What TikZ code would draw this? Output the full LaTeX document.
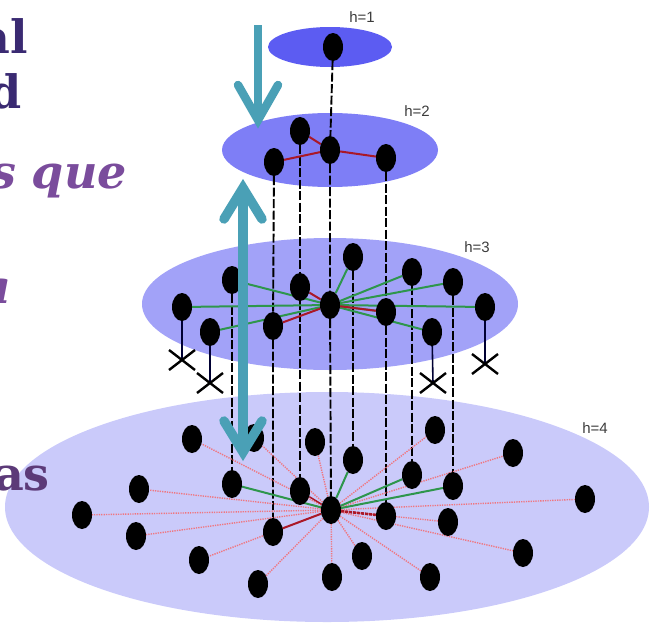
\documentclass[tikz,border=0pt]{standalone}
\usepackage{fontspec}
\usetikzlibrary{shapes.geometric}
\newfontfamily\slidefont{DejaVu Serif}
\newfontfamily\tagfont{Liberation Sans}
\definecolor{planeA}{RGB}{92,92,242}
\definecolor{planeB}{RGB}{126,126,246}
\definecolor{planeC}{RGB}{162,162,248}
\definecolor{planeD}{RGB}{202,202,250}
\definecolor{linkgreen}{RGB}{46,150,76}
\definecolor{linkred}{RGB}{170,24,40}
\definecolor{linkpink}{RGB}{240,118,128}
\definecolor{teal}{RGB}{74,160,182}
\definecolor{inkdark}{RGB}{58,42,114}
\definecolor{inkmid}{RGB}{122,76,156}
\definecolor{inkdeep}{RGB}{92,58,120}
\definecolor{taggray}{RGB}{60,60,60}
\pgfdeclarelayer{planes}
\pgfdeclarelayer{links}
\pgfdeclarelayer{front}
\pgfsetlayers{planes,links,main,front}
\begin{document}
\begin{tikzpicture}[x=1pt,y=-1pt,
  dot/.style={ellipse,fill=black,minimum width=20pt,minimum height=28pt,inner sep=0pt},
  drop/.style={black,line width=1.9pt,dash pattern=on 9pt off 2.5pt},
  tie/.style={black!80!blue,line width=1.6pt},
  gl/.style={linkgreen,line width=2pt},
  rl/.style={linkred,line width=2pt},
  pl/.style={linkpink,line width=1.4pt,dash pattern=on 1.3pt off 1.1pt},
  crossmk/.style={black,line width=2.4pt},
  htag/.style={font=\tagfont\fontsize{15}{17}\selectfont,text=taggray,inner sep=0pt},
  slide/.style={inner sep=0pt,anchor=base east,font=\slidefont\bfseries\fontsize{46}{50}\selectfont},
  shaft/.style={teal,line width=#1},
  barb/.style={teal,line width=#1,line cap=round,line join=miter}]
\useasboundingbox (0,0) rectangle (650,624);
\clip (0,0) rectangle (650,624);

% stacked planes
\begin{pgfonlayer}{planes}
\fill[planeD] (327,507) ellipse [x radius=322pt,y radius=115pt];
\fill[planeC] (330,304) ellipse [x radius=188pt,y radius=66pt];
\fill[planeB] (330,150) ellipse [x radius=108pt,y radius=37pt];
\fill[planeA] (330,47) ellipse [x radius=62pt,y radius=20pt];
\end{pgfonlayer}

\node[htag] (h1) at (362,17) {h=1};
\node[htag] (h2) at (417,111) {h=2};
\node[htag] (h3) at (477,247) {h=3};
\node[htag] (h4) at (595,428) {h=4};

% level 1
\node[dot] (t) at (333,47) {};
% level 2
\node[dot] (a2) at (300,131) {};
\node[dot] (b2) at (274,162) {};
\node[dot] (c2) at (330,150) {};
\node[dot] (d2) at (386,158) {};
% level 3
\node[dot] (p1) at (182,307) {};
\node[dot] (p2) at (210,332) {};
\node[dot] (p3) at (232,280) {};
\node[dot] (p4) at (273,326) {};
\node[dot] (p5) at (300,287) {};
\node[dot] (c3) at (330,305) {};
\node[dot] (p6) at (353,257) {};
\node[dot] (p7) at (412,272) {};
\node[dot] (p8) at (386,312) {};
\node[dot] (p9) at (453,282) {};
\node[dot] (p10) at (432,332) {};
\node[dot] (p11) at (485,307) {};
% level 4
\node[dot] (n1) at (82,515) {};
\node[dot] (n2) at (139,489) {};
\node[dot] (n3) at (136,536) {};
\node[dot] (n4) at (192,439) {};
\node[dot] (n5) at (199,560) {};
\node[dot] (n6) at (232,484) {};
\node[dot] (n7) at (254,438) {};
\node[dot] (n8) at (258,584) {};
\node[dot] (n9) at (273,532) {};
\node[dot] (n10) at (300,491) {};
\node[dot] (n11) at (315,442) {};
\node[dot] (c4) at (331,510) {};
\node[dot] (n12) at (353,460) {};
\node[dot] (n13) at (362,556) {};
\node[dot] (n14) at (332,577) {};
\node[dot] (n15) at (386,516) {};
\node[dot] (n16) at (412,475) {};
\node[dot] (n17) at (435,430) {};
\node[dot] (n18) at (448,522) {};
\node[dot] (n19) at (453,486) {};
\node[dot] (n20) at (430,577) {};
\node[dot] (n21) at (513,453) {};
\node[dot] (n22) at (585,499) {};
\node[dot] (n23) at (523,553) {};

% pruned branches
\coordinate (x1) at (182,360);
\coordinate (x2) at (210,383);
\coordinate (x3) at (433,383);
\coordinate (x4) at (485,364);

\begin{pgfonlayer}{links}
% descent lines between levels
\draw[drop] (t) -- (c2);
\draw[drop] (a2) -- (p5) -- (n10);
\draw[drop] (b2) -- (p4) -- (n9);
\draw[drop] (c2) -- (c3) -- (c4);
\draw[drop] (d2) -- (p8) -- (n15);
\draw[drop] (p3) -- (n6);
\draw[drop] (p6) -- (n12);
\draw[drop] (p7) -- (n16);
\draw[drop] (p9) -- (n19);
\draw[tie] (p1) -- (x1);
\draw[tie] (p2) -- (x2);
\draw[tie] (p10) -- (x3);
\draw[tie] (p11) -- (x4);
% level 2 links
\draw[rl] (c2) -- (a2);
\draw[rl] (c2) -- (b2);
\draw[rl] (c2) -- (d2);
% level 3 links
\foreach \q in {p1,p2,p3,p6,p7,p9,p10,p11} \draw[gl] (c3) -- (\q);
\draw[gl] (c3) -- (p8);
\foreach \q in {p4,p5,p8} \draw[rl] (c3) -- (\q);
% level 4 links
\foreach \q in {n1,n2,n3,n4,n5,n7,n8,n11,n13,n14,n17,n18,n20,n21,n22,n23}
  \draw[pl] (c4) -- (\q);
\foreach \q in {n6,n12,n16,n19} \draw[gl] (c4) -- (\q);
\draw[rl] (c4) -- (n9);
\draw[rl,line width=1.5pt] (c4) -- (n10);
\draw[rl,line width=2.6pt,dash pattern=on 3pt off 1pt] (c4) -- (n15);
\end{pgfonlayer}

\draw[crossmk] (x1) +(-13,-10) -- +(13,10) (x1) +(-13,10) -- +(13,-10);
\draw[crossmk] (x2) +(-13,-10) -- +(13,10) (x2) +(-13,10) -- +(13,-10);
\draw[crossmk] (x3) +(-13,-10) -- +(13,10) (x3) +(-13,10) -- +(13,-10);
\draw[crossmk] (x4) +(-13,-10) -- +(13,10) (x4) +(-13,10) -- +(13,-10);

% teal arrows
\begin{pgfonlayer}{front}
\coordinate (ua) at (258,25);
\coordinate (ub) at (258,120);
\draw[shaft=8pt] (ua) -- (ub);
\draw[barb=8.5pt] (238,85) -- (ub) -- (278,85);
\coordinate (va) at (243,188);
\coordinate (vb) at (243,452);
\draw[shaft=9.5pt] (va) -- (vb);
\draw[barb=9.5pt] (224,219) -- (va) -- (262,219);
\draw[barb=9.5pt] (224,421) -- (vb) -- (262,421);
\end{pgfonlayer}

% slide text on the left
\node[slide,text=inkdark] (w1) at (28,53) {al};
\node[slide,text=inkdark] (w2) at (22,108) {d};
\node[slide,text=inkmid,font=\slidefont\bfseries\itshape\fontsize{46}{50}\selectfont] (w3) at (127,188) {s que};
\node[slide,text=inkmid,font=\slidefont\bfseries\itshape\fontsize{46}{50}\selectfont] (w4) at (12,303) {a};
\node[slide,text=inkdeep] (w5) at (50,490) {as};
\end{tikzpicture}
\end{document}
